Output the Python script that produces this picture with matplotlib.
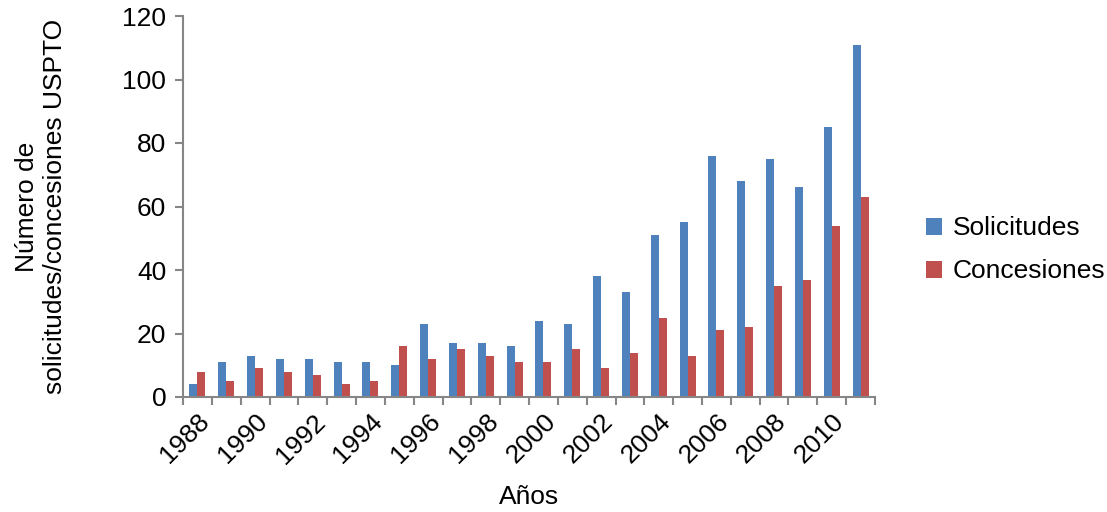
import numpy as np
import matplotlib
matplotlib.use('Agg')
import matplotlib.pyplot as plt

plt.rcParams['font.family'] = ['Liberation Sans', 'DejaVu Sans']

years = list(range(1988, 2012))
solicitudes = [4, 11, 13, 12, 12, 11, 11, 10, 23, 17, 17, 16, 24, 23, 38, 33, 51, 55, 76, 68, 75, 66, 85, 111]
concesiones = [8, 5, 9, 8, 7, 4, 5, 16, 12, 15, 13, 11, 11, 15, 9, 14, 25, 13, 21, 22, 35, 37, 54, 63]

fig = plt.figure(figsize=(11.07, 5.12), dpi=100)
ax = fig.add_axes([183 / 1107, 1 - 397 / 512, (875 - 183) / 1107, (397 - 16) / 512])

x = np.arange(len(years))
w = 0.28
ax.bar(x - w / 2, solicitudes, w, color='#4f81bd', label='Solicitudes')
ax.bar(x + w / 2, concesiones, w, color='#c0504d', label='Concesiones')

ax.set_xlim(-0.5, len(years) - 0.5)
ax.set_ylim(0, 120)
ax.set_yticks(range(0, 121, 20))

# labels every other year, tick marks between categories
ax.set_xticks(x[::2])
ax.set_xticklabels([str(y) for y in years[::2]], rotation=45, ha='right', rotation_mode='anchor')
ax.set_xticks(np.arange(-0.5, len(years), 1), minor=True)
ax.tick_params(axis='x', which='major', length=0, pad=9)
ax.tick_params(axis='x', which='minor', length=6, color='#868686', width=1.5)
ax.tick_params(axis='y', length=6, color='#868686', width=1.5, pad=6)
ax.tick_params(labelsize=19)

for s in ['top', 'right']:
    ax.spines[s].set_visible(False)
for s in ['left', 'bottom']:
    ax.spines[s].set_color('#868686')
    ax.spines[s].set_linewidth(1.5)

ax.set_xlabel('Años', fontsize=19, labelpad=12)
ax.set_ylabel('Número de\nsolicitudes/concesiones USPTO', fontsize=19, labelpad=40)

ax.legend(loc='center left', bbox_to_anchor=(1.04, 0.386), frameon=False, fontsize=19,
          handlelength=0.6, handleheight=0.6, handletextpad=0.4, labelspacing=0.72)

fig.savefig('out.png', dpi=100)
